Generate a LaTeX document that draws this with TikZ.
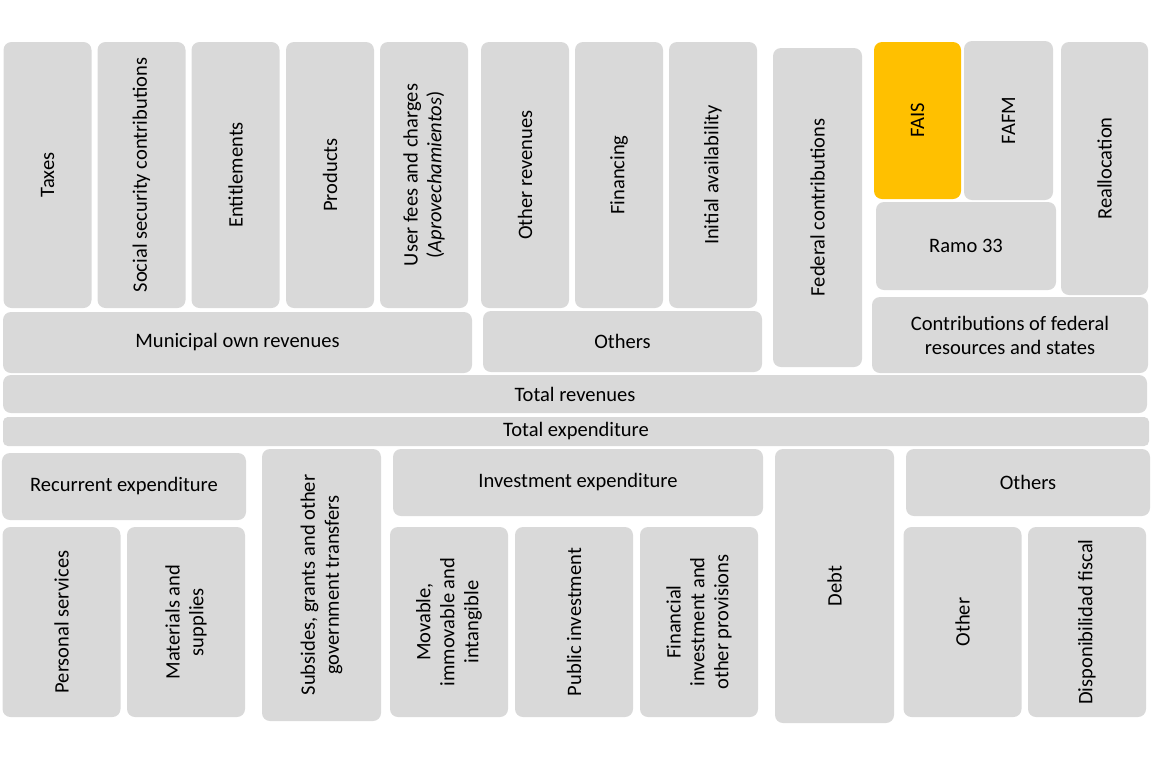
\documentclass[tikz,border=0pt]{standalone}
\usepackage{fontspec}
\setmainfont{Carlito}
\definecolor{boxgray}{HTML}{D9D9D9}
\definecolor{faisgold}{HTML}{FFC000}

\begin{document}
\begin{tikzpicture}[x=0.025cm, y=-0.025cm,
    box/.style={fill=boxgray, rounded corners=0.2cm, inner sep=0pt, outer sep=0pt,
        align=center, font=\fontsize{14.6}{17}\selectfont},
    dims/.style 2 args={minimum width=#1*0.025cm, minimum height=#2*0.025cm},
    vbox/.style={box, rotate=90}]

    \useasboundingbox (0,0) rectangle (1152,772);

    % Revenue columns
    \foreach \n/\x/\t in {taxes/47.5/Taxes,
                          social/141.5/Social security contributions,
                          entitle/235.5/Entitlements,
                          products/330/Products,
                          userfees/424/{User fees and charges\\(\textit{Aprovechamientos})},
                          otherrev/525/Other revenues,
                          financing/619/Financing,
                          initial/713/Initial availability}
        \node[vbox, dims={266}{88}] (\n) at (\x,175) {\t};

    % Revenue groups
    \node[box, dims={469}{61}] (ownrev) at (237.5,342.5) {Municipal own revenues};
    \node[box, dims={279}{61}] (othersrev) at (622.5,341.5) {Others};

    % Federal resources
    \node[vbox, dims={319}{89}] (federal) at (817.5,207.5) {Federal contributions};
    \node[vbox, dims={157}{87}, fill=faisgold] (fais) at (917.5,120.5) {FAIS};
    \node[vbox, dims={159}{89}] (fafm) at (1008.5,120.5) {FAFM};
    \node[vbox, dims={253}{87}] (realloc) at (1104.5,168.5) {Reallocation};
    \node[box, dims={180}{88}] (ramo) at (966,246) {Ramo 33};
    \node[box, dims={276}{76}] (contrib) at (1010,335)
        {Contributions of federal\\resources and states};

    % Totals
    \node[box, dims={1144}{38}] (totrev) at (575,394) {Total revenues};
    \node[box, dims={1146}{29}, rounded corners=0.12cm] (totexp) at (576,431.5) {Total expenditure};

    % Expenditure groups
    \node[box, dims={244}{67}] (recurrent) at (124,486.5) {Recurrent expenditure};
    \node[vbox, dims={272}{119}] (subsides) at (321.5,585)
        {Subsides, grants and other\\government transfers};
    \node[box, dims={370}{67}] (investment) at (578,482.5) {Investment expenditure};
    \node[vbox, dims={274}{119}] (debt) at (834.5,586) {Debt};
    \node[box, dims={244}{67}] (othersexp) at (1028,482.5) {Others};

    % Expenditure columns
    \foreach \n/\x/\t in {personal/61.5/Personal services,
                          materials/186/{Materials and\\supplies},
                          movable/449/{Movable,\\immovable and\\intangible},
                          publicinv/574/Public investment,
                          financial/699/{Financial\\investment and\\other provisions},
                          other/962.5/Other,
                          disponib/1087/Disponibilidad fiscal}
        \node[vbox, dims={190}{118}] (\n) at (\x,622) {\t};

\end{tikzpicture}
\end{document}
